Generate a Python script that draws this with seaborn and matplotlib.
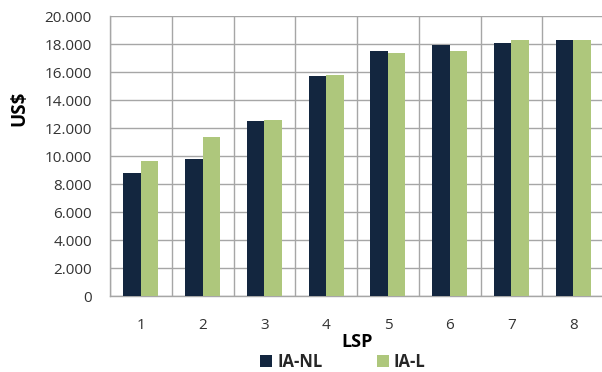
import numpy as np
import pandas as pd
import matplotlib
matplotlib.use("Agg")
import matplotlib.pyplot as plt
import seaborn as sns
from matplotlib.ticker import FuncFormatter
from matplotlib.patches import Patch

# Categories and series values
lsp = ["1", "2", "3", "4", "5", "6", "7", "8"]
ia_nl = [8760, 9770, 12510, 15740, 17500, 17910, 18060, 18300]
ia_l = [9620, 11390, 12590, 15810, 17340, 17480, 18300, 18300]
series_names = ["IA-NL", "IA-L"]
colors = ["#13263F", "#AEC77C"]
y_ticks = list(range(0, 20001, 2000))

df = pd.DataFrame({
    "LSP": lsp * 2,
    "US$": ia_nl + ia_l,
    "Série": [series_names[0]] * len(lsp) + [series_names[1]] * len(lsp),
})

sns.set_theme(style="white")
plt.rcParams["font.family"] = ["Open Sans", "DejaVu Sans"]

fig = plt.figure(figsize=(6.02, 3.72), dpi=100)
ax = fig.add_axes([110 / 602, 1 - 296 / 372, 494 / 602, 280 / 372])

sns.barplot(data=df, x="LSP", y="US$", hue="Série", palette=colors,
            width=0.57, saturation=1, dodge=True, ax=ax, legend=False,
            linewidth=0, zorder=3)

grid_col = "#A6A6A6"
ax.set_xlim(-0.5, len(lsp) - 0.5)
ax.set_ylim(0, 20000)
ax.set_yticks(y_ticks)
ax.yaxis.set_major_formatter(FuncFormatter(lambda v, p: f"{int(v):,}".replace(",", ".")))

# category boundaries as vertical gridlines
ax.set_xticks(np.arange(-0.5, len(lsp), 1), minor=True)
ax.grid(True, axis="y", which="major", color=grid_col, linewidth=1, zorder=0)
ax.grid(True, axis="x", which="minor", color=grid_col, linewidth=1, zorder=0)
ax.grid(False, axis="x", which="major")
ax.set_axisbelow(True)

label_col = "#333333"
ax.tick_params(axis="x", which="major", length=0, pad=16, labelsize=11, labelcolor=label_col)
ax.tick_params(axis="x", which="minor", length=6, width=1, color=grid_col, direction="out")
ax.tick_params(axis="y", which="major", length=4, width=1, color=grid_col, direction="out",
               pad=9, labelsize=11, labelcolor=label_col)

for side in ["top", "right"]:
    ax.spines[side].set_visible(False)
for side in ["left", "bottom"]:
    ax.spines[side].set_color(grid_col)
    ax.spines[side].set_linewidth(1)

ax.set_xlabel("")
ax.set_ylabel("")
fig.text(19 / 602, 1 - 108 / 372, "US$", rotation=90, ha="center", va="center",
         fontsize=13.5, fontweight="bold", color="black")
fig.text(357 / 602, 1 - 342 / 372, "LSP", ha="center", va="center",
         fontsize=13, fontweight="bold", color="black")

handles = [Patch(facecolor=c, edgecolor="none") for c in colors]
fig.legend(handles, series_names, loc="center", bbox_to_anchor=(343 / 602, 1 - 362 / 372),
           ncol=2, frameon=False, handlelength=0.7, handleheight=0.7, handletextpad=0.3,
           columnspacing=3.3, prop={"size": 12, "weight": "bold"}, borderaxespad=0,
           borderpad=0)

fig.savefig("out.png", dpi=100)
